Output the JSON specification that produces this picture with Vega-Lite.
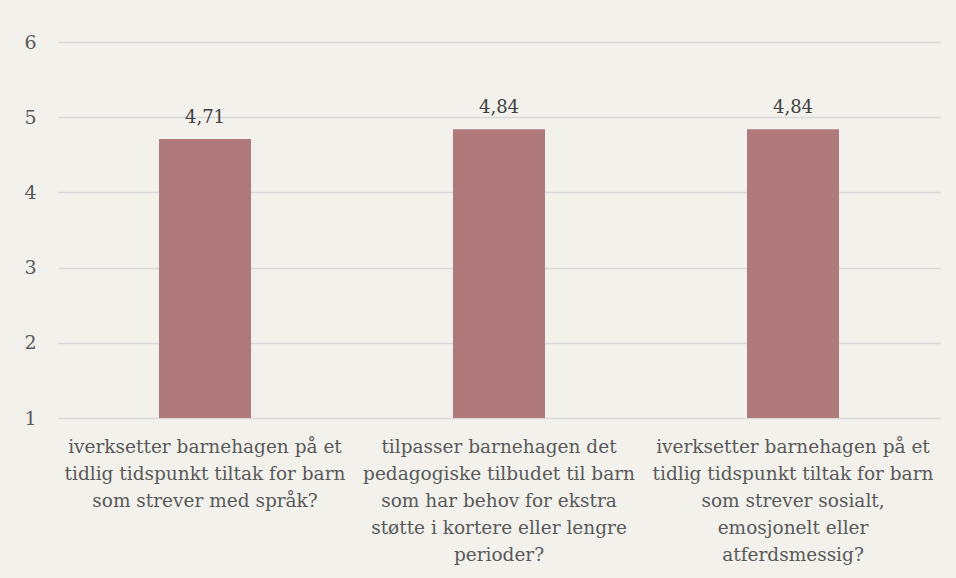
{
  "$schema": "https://vega.github.io/schema/vega-lite/v6.json",
  "width": 882,
  "height": 376,
  "autosize": {"type": "none"},
  "padding": {"left": 58, "top": 42, "right": 16, "bottom": 160},
  "background": "#f2f1ec",
  "config": {
    "view": {"stroke": null},
    "font": "DejaVu Serif",
    "locale": {"number": {"decimal": ",", "thousands": " ", "grouping": [3], "currency": ["", " kr"]}}
  },
  "data": {
    "values": [
      {"q": "iverksetter barnehagen på et|tidlig tidspunkt tiltak for barn|som strever med språk?", "v": 4.71},
      {"q": "tilpasser barnehagen det|pedagogiske tilbudet til barn|som har behov for ekstra|støtte i kortere eller lengre|perioder?", "v": 4.84},
      {"q": "iverksetter barnehagen på et|tidlig tidspunkt tiltak for barn|som strever sosialt,|emosjonelt eller|atferdsmessig?", "v": 4.84}
    ]
  },
  "encoding": {
    "x": {
      "field": "q", "type": "nominal", "sort": null,
      "scale": {"paddingInner": 0.687, "paddingOuter": 0.3435},
      "axis": {
        "title": null, "labelAngle": 0, "domain": false, "ticks": false,
        "labelExpr": "split(datum.value, '|')",
        "labelFont": "DejaVu Serif", "labelFontSize": 18.5, "labelColor": "#595959",
        "labelLineHeight": 27, "labelPadding": 19, "labelLimit": 0
      }
    }
  },
  "layer": [
    {
      "mark": {"type": "bar", "color": "#b07a7c"},
      "encoding": {
        "y": {
          "field": "v", "type": "quantitative",
          "scale": {"domain": [1, 6], "zero": false, "nice": false},
          "axis": {
            "title": null, "values": [1, 2, 3, 4, 5, 6], "format": "d", "domain": false, "ticks": false,
            "grid": true, "gridColor": "#d9d9d9", "gridWidth": 1.5,
            "labelFont": "DejaVu Serif", "labelFontSize": 19, "labelColor": "#595959",
            "labelPadding": 22
          }
        },
        "y2": {"datum": 1}
      }
    },
    {
      "mark": {"type": "text", "baseline": "bottom", "dy": -12, "fontSize": 18, "color": "#404040", "font": "DejaVu Serif"},
      "encoding": {
        "y": {"field": "v", "type": "quantitative"},
        "text": {"field": "v", "type": "quantitative", "format": ".2f"}
      }
    }
  ]
}
